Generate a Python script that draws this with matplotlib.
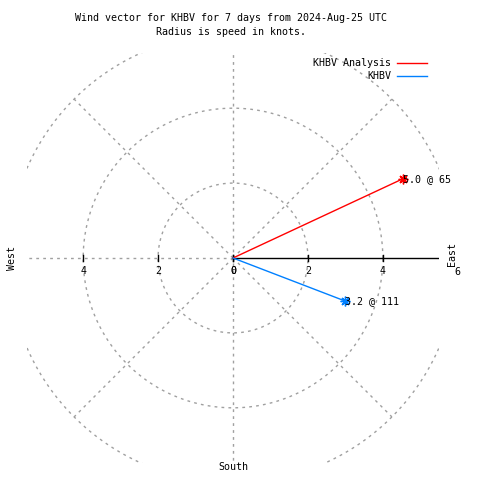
import numpy as np
import matplotlib
matplotlib.use('Agg')
import matplotlib.pyplot as plt

# Дані: швидкість (вузли) і напрям (градуси від півночі)
names = ['KHBV Analysis', 'KHBV']
speeds = [5.0, 3.2]
directions = [65, 111]
colors = ['#ff0000', '#0080ff']
rings = [2, 4, 6]
tick_vals = [0, 2, 4]
rmax = 5.5

plt.rcParams['font.family'] = 'DejaVu Sans Mono'
plt.rcParams['font.size'] = 7.2

fig = plt.figure(figsize=(4.8, 4.8), dpi=100)
ax = fig.add_axes([27 / 480, 17 / 480, 412 / 480, 410 / 480])
ax.set_xlim(-rmax, rmax)
ax.set_ylim(-rmax * 410 / 412, rmax * 410 / 412)
ax.axis('off')

grid_kw = dict(color='#a0a0a0', lw=1, ls=(0, (2, 3)), zorder=1)

# Кола сітки
t = np.linspace(0, 2 * np.pi, 400)
for r in rings:
    ax.plot(r * np.cos(t), r * np.sin(t), **grid_kw)

# Діагоналі
for a in [45, 135, 225, 315]:
    ax.plot([0, 6 * np.cos(np.radians(a))], [0, 6 * np.sin(np.radians(a))], **grid_kw)

# Осі
ax.plot([0, 0], [-6, 6], **grid_kw)
ax.plot([-6, 0], [0, 0], **grid_kw)
ax.plot([0, rmax], [0, 0], color='black', lw=1, zorder=2)
for v in tick_vals:
    for sgn in [1, -1]:
        ax.plot([sgn * v, sgn * v], [-0.08, 0.08], color='black', lw=1, zorder=2)
        ax.text(sgn * v, -0.22, str(v), ha='center', va='top')
ax.text(6, -0.25, '6', ha='center', va='top', clip_on=False)

ax.text(5.85, 0.12, 'East', rotation=90, ha='center', va='center', clip_on=False)
ax.text(-5.9, 0, 'West', rotation=90, ha='center', va='center', clip_on=False)
ax.text(0, -5.45, 'South', ha='center', va='top', clip_on=False)

# Вектори вітру
for name, s, d, c in zip(names, speeds, directions, colors):
    x = s * np.sin(np.radians(d))
    y = s * np.cos(np.radians(d))
    ax.plot([0, x], [0, y], color=c, lw=1, marker=(8, 2, 0), markersize=7,
            markevery=[1], label=name, zorder=3)
    ax.annotate(f'{s:.1f} @ {d}', (x, y), xytext=(0, 0), textcoords='offset points',
                ha='left', va='center', zorder=4)

# Легенда
for i, (name, c) in enumerate(zip(names, colors)):
    yy = 1 - (63 + 13 * i) / 480
    fig.text(391 / 480, yy, name, ha='right', va='center')
    fig.add_artist(plt.Line2D([397 / 480, 427 / 480], [yy, yy], color=c, lw=1))

fig.text(231 / 480, 1 - 18 / 480, 'Wind vector for KHBV for 7 days from 2024-Aug-25 UTC',
         ha='center', va='center')
fig.text(231 / 480, 1 - 32 / 480, 'Radius is speed in knots.', ha='center', va='center')

fig.savefig('out.png', dpi=100)
